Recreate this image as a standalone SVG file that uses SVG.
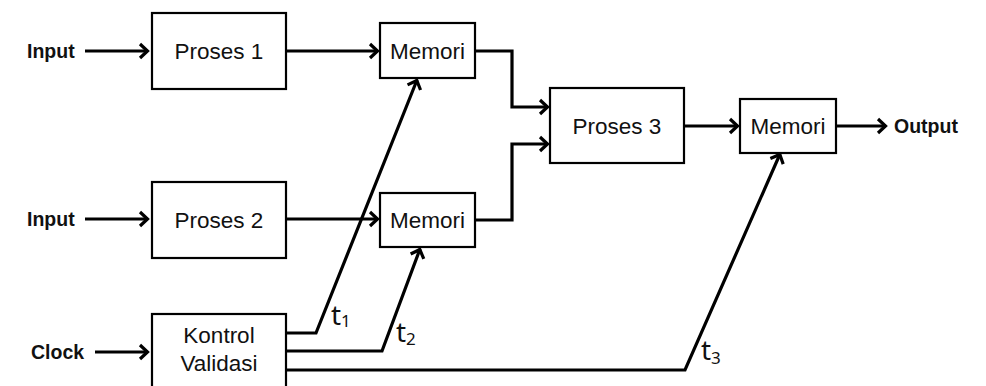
<svg xmlns="http://www.w3.org/2000/svg" width="986" height="386" viewBox="0 0 986 386">
  <style>
    .box { fill: #ffffff; stroke: #000000; stroke-width: 2.2; }
    .lbl { font-family: "Liberation Sans", Arial, sans-serif; font-size: 22.5px; fill: #111111; text-anchor: middle; }
    .io { font-family: "Liberation Sans", Arial, sans-serif; font-size: 19.5px; font-weight: bold; fill: #111111; }
    .tl { font-family: "Noto Sans", "Open Sans", sans-serif; font-size: 28px; fill: #111111; }
    .sub { font-size: 17px; }
    .wire { fill: none; stroke: #000000; stroke-width: 3.2; stroke-linejoin: miter; }
    .arr { marker-end: url(#head); }
  </style>
  <defs>
    <marker id="head" markerUnits="userSpaceOnUse" markerWidth="16" markerHeight="18" refX="10" refY="9" orient="auto">
      <path d="M2,2 L9.5,9 L2,16" fill="none" stroke="#000000" stroke-width="3.2" stroke-linejoin="miter"/>
    </marker>
  </defs>

  <rect width="986" height="386" fill="#ffffff"/>

  <!-- connectors -->
  <g id="connectors">
    <path class="wire arr" d="M85,51 H148"/>
    <path class="wire arr" d="M85,219 H148"/>
    <path class="wire arr" d="M95,352 H148"/>
    <path class="wire arr" d="M286,51 H378"/>
    <path class="wire arr" d="M286,219 H378"/>
    <path class="wire arr" d="M475,51 H512 V107 H548"/>
    <path class="wire arr" d="M475,220 H512 V144 H548"/>
    <path class="wire arr" d="M684,126 H738"/>
    <path class="wire arr" d="M836,126 H886"/>
    <!-- clock lines from the validation control -->
    <path class="wire arr" d="M286,333 H316 L417,80"/>
    <path class="wire arr" d="M286,351 H382 L420,249"/>
    <path class="wire arr" d="M286,370 H685 L780,154"/>
  </g>

  <!-- I/O labels -->
  <text class="io" x="27" y="58">Input</text>
  <text class="io" x="27" y="226">Input</text>
  <text class="io" x="31" y="359">Clock</text>
  <text class="io" x="894" y="133">Output</text>

  <!-- clock phase labels -->
  <text class="tl" x="331" y="325">t<tspan class="sub" dy="2">1</tspan></text>
  <text class="tl" x="396" y="342">t<tspan class="sub" dy="3">2</tspan></text>
  <text class="tl" x="701" y="360">t<tspan class="sub" dy="4">3</tspan></text>

  <g id="proses1">
    <rect class="box" x="152" y="13" width="134" height="76"/>
    <text class="lbl" x="219" y="59">Proses 1</text>
  </g>
  <g id="proses2">
    <rect class="box" x="152" y="182" width="134" height="76"/>
    <text class="lbl" x="219" y="228">Proses 2</text>
  </g>
  <g id="kontrol">
    <rect class="box" x="152" y="314" width="134" height="80"/>
    <text class="lbl" x="219" y="343">Kontrol</text>
    <text class="lbl" x="219" y="371">Validasi</text>
  </g>
  <g id="memori1">
    <rect class="box" x="380" y="23" width="95" height="55"/>
    <text class="lbl" x="427.5" y="59">Memori</text>
  </g>
  <g id="memori2">
    <rect class="box" x="380" y="193" width="95" height="54"/>
    <text class="lbl" x="427.5" y="228">Memori</text>
  </g>
  <g id="proses3">
    <rect class="box" x="550" y="88" width="134" height="75"/>
    <text class="lbl" x="617" y="134">Proses 3</text>
  </g>
  <g id="memori3">
    <rect class="box" x="740" y="99" width="96" height="54"/>
    <text class="lbl" x="788" y="134">Memori</text>
  </g>
</svg>
